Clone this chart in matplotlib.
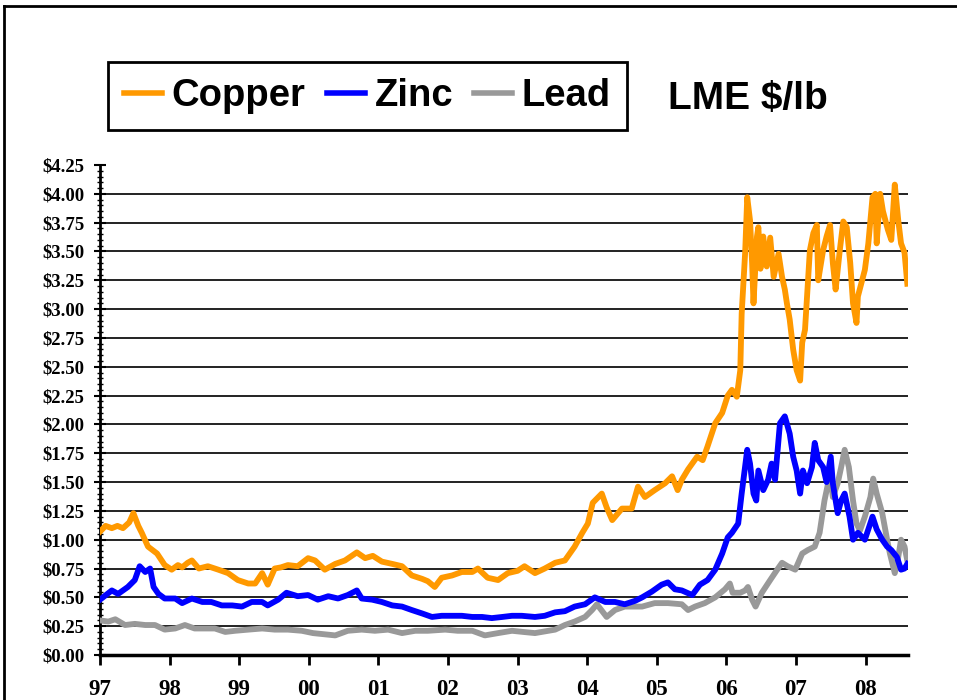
import numpy as np
import matplotlib.pyplot as plt
from matplotlib.lines import Line2D
from matplotlib.ticker import MultipleLocator, FuncFormatter

# LME prices, US$ per lb, by decimal year
copper_t = [1997.00, 1997.08, 1997.17, 1997.25, 1997.33, 1997.42, 1997.48, 1997.55, 1997.60, 1997.69,
            1997.82, 1997.93, 1998.03, 1998.12, 1998.18, 1998.26, 1998.32, 1998.42, 1998.55, 1998.70,
            1998.84, 1998.98, 1999.13, 1999.23, 1999.33, 1999.41, 1999.51, 1999.60, 1999.70, 1999.84,
            1999.99, 2000.09, 2000.23, 2000.38, 2000.52, 2000.69, 2000.81, 2000.92, 2001.05, 2001.20,
            2001.34, 2001.48, 2001.63, 2001.71, 2001.81, 2001.91, 2002.06, 2002.20, 2002.35, 2002.43,
            2002.57, 2002.72, 2002.86, 2003.00, 2003.10, 2003.25, 2003.39, 2003.54, 2003.68, 2003.82,
            2003.93, 2004.01, 2004.08, 2004.21, 2004.28, 2004.36, 2004.50, 2004.64, 2004.73, 2004.83,
            2004.97, 2005.12, 2005.22, 2005.30, 2005.36, 2005.45, 2005.58, 2005.66, 2005.73, 2005.84,
            2005.94, 2006.02, 2006.08, 2006.15, 2006.20, 2006.22, 2006.27, 2006.30, 2006.34, 2006.37,
            2006.39, 2006.44, 2006.46, 2006.49, 2006.53, 2006.58, 2006.63, 2006.68, 2006.75, 2006.80,
            2006.84, 2006.87, 2006.91, 2006.96, 2007.01, 2007.06, 2007.09, 2007.13, 2007.16, 2007.20,
            2007.25, 2007.30, 2007.32, 2007.39, 2007.44, 2007.49, 2007.53, 2007.57, 2007.63, 2007.68,
            2007.73, 2007.78, 2007.82, 2007.87, 2007.89, 2007.95, 2007.99, 2008.04, 2008.10, 2008.14,
            2008.16, 2008.21, 2008.25, 2008.32, 2008.37, 2008.42, 2008.47, 2008.51, 2008.56, 2008.60]
copper = [1.07, 1.12, 1.10, 1.12, 1.10, 1.15, 1.23, 1.12, 1.06, 0.94,
          0.88, 0.78, 0.74, 0.78, 0.76, 0.80, 0.82, 0.75, 0.77, 0.74,
          0.71, 0.65, 0.62, 0.62, 0.71, 0.61, 0.75, 0.76, 0.78, 0.77,
          0.84, 0.82, 0.74, 0.79, 0.82, 0.89, 0.84, 0.86, 0.81, 0.79,
          0.77, 0.69, 0.66, 0.64, 0.59, 0.67, 0.69, 0.72, 0.72, 0.75,
          0.67, 0.65, 0.71, 0.73, 0.77, 0.71, 0.75, 0.80, 0.82, 0.94,
          1.06, 1.14, 1.32, 1.40, 1.28, 1.17, 1.27, 1.27, 1.46, 1.37,
          1.43, 1.49, 1.55, 1.43, 1.52, 1.61, 1.72, 1.69, 1.81, 2.01,
          2.10, 2.25, 2.30, 2.24, 2.47, 2.96, 3.49, 3.97, 3.77, 3.40,
          3.05, 3.63, 3.71, 3.35, 3.63, 3.37, 3.62, 3.28, 3.48, 3.28,
          3.17, 3.05, 2.91, 2.65, 2.47, 2.38, 2.71, 2.82, 3.11, 3.51,
          3.66, 3.73, 3.25, 3.51, 3.63, 3.73, 3.40, 3.17, 3.51, 3.76,
          3.71, 3.40, 3.05, 2.88, 3.11, 3.25, 3.34, 3.57, 3.97, 4.00,
          3.57, 4.00, 3.85, 3.69, 3.60, 4.08, 3.77, 3.57, 3.49, 3.22]

zinc_t = [1997.00, 1997.17, 1997.26, 1997.40, 1997.50, 1997.57, 1997.65, 1997.72, 1997.77, 1997.84,
          1997.93, 1998.08, 1998.18, 1998.32, 1998.47, 1998.60, 1998.75, 1998.90, 1999.04, 1999.18,
          1999.33, 1999.41, 1999.56, 1999.68, 1999.84, 1999.99, 2000.13, 2000.28, 2000.42, 2000.56,
          2000.69, 2000.76, 2000.91, 2001.05, 2001.20, 2001.34, 2001.48, 2001.63, 2001.77, 2001.91,
          2002.06, 2002.20, 2002.35, 2002.49, 2002.63, 2002.78, 2002.92, 2003.06, 2003.25, 2003.39,
          2003.54, 2003.68, 2003.82, 2003.97, 2004.11, 2004.26, 2004.40, 2004.54, 2004.69, 2004.79,
          2004.93, 2005.07, 2005.16, 2005.26, 2005.36, 2005.51, 2005.62, 2005.73, 2005.84, 2005.94,
          2006.02, 2006.08, 2006.17, 2006.22, 2006.30, 2006.34, 2006.39, 2006.43, 2006.46, 2006.53,
          2006.60, 2006.65, 2006.70, 2006.77, 2006.84, 2006.91, 2006.96, 2007.01, 2007.06, 2007.10,
          2007.16, 2007.23, 2007.27, 2007.32, 2007.39, 2007.44, 2007.50, 2007.53, 2007.60, 2007.65,
          2007.70, 2007.77, 2007.82, 2007.89, 2007.99, 2008.04, 2008.10, 2008.16, 2008.24, 2008.31,
          2008.37, 2008.45, 2008.51, 2008.56, 2008.60]
zinc = [0.48, 0.56, 0.53, 0.59, 0.65, 0.77, 0.72, 0.75, 0.59, 0.53,
        0.49, 0.49, 0.45, 0.49, 0.46, 0.46, 0.43, 0.43, 0.42, 0.46,
        0.46, 0.43, 0.48, 0.54, 0.51, 0.52, 0.48, 0.51, 0.49, 0.52,
        0.56, 0.49, 0.48, 0.46, 0.43, 0.42, 0.39, 0.36, 0.33, 0.34,
        0.34, 0.34, 0.33, 0.33, 0.32, 0.33, 0.34, 0.34, 0.33, 0.34,
        0.37, 0.38, 0.42, 0.44, 0.50, 0.46, 0.46, 0.44, 0.47, 0.50,
        0.55, 0.61, 0.63, 0.57, 0.56, 0.52, 0.61, 0.65, 0.74, 0.88,
        1.02, 1.06, 1.14, 1.40, 1.78, 1.66, 1.40, 1.34, 1.60, 1.43,
        1.52, 1.66, 1.52, 2.01, 2.07, 1.92, 1.72, 1.60, 1.40, 1.60,
        1.49, 1.63, 1.84, 1.69, 1.63, 1.50, 1.72, 1.49, 1.23, 1.34,
        1.40, 1.20, 1.00, 1.06, 1.00, 1.09, 1.20, 1.09, 1.00, 0.94,
        0.91, 0.85, 0.74, 0.75, 0.79]

lead_t = [1997.00, 1997.12, 1997.22, 1997.36, 1997.50, 1997.65, 1997.79, 1997.93, 1998.08, 1998.22,
          1998.36, 1998.51, 1998.65, 1998.80, 1998.94, 1999.13, 1999.33, 1999.51, 1999.70, 1999.90,
          2000.06, 2000.38, 2000.56, 2000.76, 2000.95, 2001.14, 2001.34, 2001.53, 2001.71, 2001.96,
          2002.14, 2002.35, 2002.53, 2002.72, 2002.92, 2003.08, 2003.25, 2003.54, 2003.68, 2003.82,
          2003.97, 2004.07, 2004.14, 2004.28, 2004.40, 2004.54, 2004.79, 2004.97, 2005.16, 2005.36,
          2005.45, 2005.55, 2005.69, 2005.84, 2005.98, 2006.05, 2006.09, 2006.20, 2006.27, 2006.31,
          2006.37, 2006.42, 2006.51, 2006.63, 2006.73, 2006.80, 2006.88, 2006.99, 2007.09, 2007.17,
          2007.27, 2007.34, 2007.41, 2007.49, 2007.53, 2007.60, 2007.65, 2007.70, 2007.76, 2007.82,
          2007.87, 2007.92, 2007.99, 2008.07, 2008.11, 2008.16, 2008.24, 2008.31, 2008.35, 2008.42,
          2008.47, 2008.51, 2008.56, 2008.60]
lead = [0.30, 0.29, 0.31, 0.26, 0.27, 0.26, 0.26, 0.22, 0.23, 0.26,
        0.23, 0.23, 0.23, 0.20, 0.21, 0.22, 0.23, 0.22, 0.22, 0.21,
        0.19, 0.17, 0.21, 0.22, 0.21, 0.22, 0.19, 0.21, 0.21, 0.22,
        0.21, 0.21, 0.17, 0.19, 0.21, 0.20, 0.19, 0.22, 0.26, 0.29,
        0.33, 0.39, 0.44, 0.33, 0.39, 0.42, 0.42, 0.45, 0.45, 0.44,
        0.39, 0.42, 0.45, 0.50, 0.57, 0.62, 0.54, 0.54, 0.56, 0.59,
        0.48, 0.42, 0.54, 0.65, 0.74, 0.80, 0.77, 0.74, 0.88, 0.91,
        0.94, 1.06, 1.34, 1.57, 1.37, 1.49, 1.63, 1.78, 1.63, 1.34,
        1.14, 1.08, 1.20, 1.37, 1.53, 1.40, 1.23, 1.00, 0.88, 0.71,
        0.85, 1.00, 0.94, 0.82]

years = list(range(1997, 2009))
year_labels = ['97', '98', '99', '00', '01', '02', '03', '04', '05', '06', '07', '08']

fig = plt.figure(figsize=(9.57, 7.0), dpi=100)
ax = fig.add_axes([100 / 957, 1 - 655 / 700, 808 / 957, 490 / 700])

# horizontal grid, every 25 cents up to $4.00
for lvl in np.arange(0.25, 4.01, 0.25):
    ax.axhline(lvl, color='#222222', lw=1.4, zorder=1)

ax.plot(lead_t, lead, color='#999999', lw=4.2, solid_joinstyle='round', zorder=3, label='Lead')
ax.plot(zinc_t, zinc, color='#0000FF', lw=4.2, solid_joinstyle='round', zorder=4, label='Zinc')
ax.plot(copper_t, copper, color='#FF9900', lw=4.2, solid_joinstyle='round', zorder=5, label='Copper')

ax.set_xlim(1997, 2008.61)
ax.set_ylim(0, 4.25)

for s in ['top', 'right']:
    ax.spines[s].set_visible(False)
ax.spines['left'].set_linewidth(2)
ax.spines['bottom'].set_linewidth(2.5)

ax.set_xticks(years)
ax.set_xticklabels(year_labels)
ax.yaxis.set_major_locator(MultipleLocator(0.25))
ax.yaxis.set_minor_locator(MultipleLocator(0.05))
ax.yaxis.set_major_formatter(FuncFormatter(lambda v, p: '${:.2f}'.format(v)))

ax.tick_params(axis='x', direction='out', length=7, width=2, pad=10)
ax.tick_params(axis='y', which='major', direction='inout', length=8, width=1.5, pad=7)
ax.tick_params(axis='y', which='minor', direction='inout', length=4, width=1)
for lbl in ax.get_xticklabels():
    lbl.set_fontfamily('Liberation Serif')
    lbl.set_fontweight('bold')
    lbl.set_fontsize(16.5)
for lbl in ax.get_yticklabels():
    lbl.set_fontfamily('Liberation Serif')
    lbl.set_fontweight('bold')
    lbl.set_fontsize(13.5)

# legend in copper / zinc / lead order
handles, labels = ax.get_legend_handles_labels()
order = [2, 1, 0]
leg = fig.legend([handles[i] for i in order], [labels[i] for i in order],
                 loc='upper left', bbox_to_anchor=(108 / 957, 1 - 62 / 700),
                 ncol=3, handlelength=1.0, handletextpad=0.25, columnspacing=0.55,
                 borderpad=0.42, borderaxespad=0, fancybox=False, framealpha=1,
                 edgecolor='black', prop={'family': 'Liberation Sans', 'weight': 'bold', 'size': 27.5})
leg.get_frame().set_linewidth(2)
for h in leg.legend_handles:
    h.set_linewidth(4)

fig.text(668 / 957, 1 - 99 / 700, 'LME $/lb', fontfamily='Liberation Sans',
         fontweight='bold', fontsize=28, va='center', ha='left')

# outer frame: left and top edges
fig.add_artist(Line2D([4 / 957, 4 / 957], [0, 1 - 6 / 700], transform=fig.transFigure,
                      color='black', lw=2))
fig.add_artist(Line2D([4 / 957, 1], [1 - 6 / 700, 1 - 6 / 700], transform=fig.transFigure,
                      color='black', lw=2))

fig.savefig('out.png', dpi=100)
